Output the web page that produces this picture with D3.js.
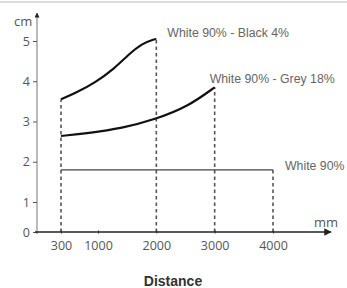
<!DOCTYPE html>
<html>
<head>
<meta charset="utf-8">
<script src="https://cdn.jsdelivr.net/npm/d3@7"></script>
<style>
  body { margin: 0; background: #fff; }
  svg { display: block; }
</style>
</head>
<body>
<svg id="chart" width="347" height="288"></svg>
<script>
// distance (mm) ticks and values
const xTicks = [300, 1000, 2000, 3000, 4000];
const yTicks = [0, 1, 2, 3, 4, 5];

const blackDist = [300, 565, 943, 1291, 1514, 1754, 1977, 2000];
const blackCm = [3.55, 3.7, 3.96, 4.33, 4.65, 4.94, 5.05, 5.05];

const greyDist = [300, 811, 1411, 1977, 2543, 3000];
const greyCm = [2.64, 2.71, 2.83, 3.05, 3.37, 3.85];

const whiteDist = [300, 4000];
const whiteCm = [1.8, 1.8];

const seriesNames = ["White 90% - Black 4%", "White 90% - Grey 18%", "White 90%"];

const svg = d3.select("#chart");

// schematic axes: not strictly linear in the original
const x = d3.scaleLinear().domain([0, 300, 1000, 4000]).range([37, 61, 98, 273]);
const y = d3.scaleLinear().domain([0, 1, 5]).range([232, 202, 41]);

// top rule
svg.append("rect").attr("x", 0).attr("y", 1).attr("width", 347).attr("height", 2).attr("fill", "#dcdcdc");

const defs = svg.append("defs");
defs.append("marker")
  .attr("id", "arrow")
  .attr("viewBox", "0 0 10 10")
  .attr("refX", 9).attr("refY", 5)
  .attr("markerWidth", 5).attr("markerHeight", 5)
  .attr("orient", "auto")
  .append("path").attr("d", "M0,0L10,5L0,10Z").attr("fill", "#222");

// dashed drop lines
const drops = [
  { d: 300, v: blackCm[0] },
  { d: 2000, v: blackCm[blackCm.length - 1] },
  { d: 3000, v: greyCm[greyCm.length - 1] },
  { d: 4000, v: whiteCm[1] },
];
svg.append("g").selectAll("line").data(drops).join("line")
  .attr("x1", (d) => x(d.d)).attr("x2", (d) => x(d.d))
  .attr("y1", y(0)).attr("y2", (d) => y(d.v))
  .attr("stroke", "#555").attr("stroke-width", 1.6)
  .attr("stroke-dasharray", "3.5,3");

// y axis
svg.append("line")
  .attr("x1", 37).attr("x2", 37).attr("y1", y(0) + 2).attr("y2", 13)
  .attr("stroke", "#777").attr("stroke-width", 1)
  .attr("marker-end", "url(#arrow)");
const yAxis = d3.axisLeft(y).tickValues(yTicks).tickFormat(d3.format("d")).tickSize(4).tickPadding(3);
const yG = svg.append("g").attr("transform", "translate(37,0)").call(yAxis);
yG.select(".domain").remove();
yG.selectAll(".tick line").attr("stroke", "#555");
yG.selectAll(".tick text")
  .attr("fill", "#555").style("font-family", "Open Sans").style("font-size", "12.5px");
svg.append("text").attr("x", 14).attr("y", 26)
  .attr("fill", "#555").style("font-family", "Open Sans").style("font-size", "13px").text("cm");

// x axis
svg.append("line")
  .attr("x1", 35).attr("x2", 331).attr("y1", y(0)).attr("y2", y(0))
  .attr("stroke", "#222").attr("stroke-width", 1.5)
  .attr("marker-end", "url(#arrow)");
const xAxis = d3.axisBottom(x).tickValues(xTicks).tickFormat(d3.format("d")).tickSize(3).tickPadding(8);
const xG = svg.append("g").attr("transform", `translate(0,${y(0) - 1.5})`).call(xAxis);
xG.select(".domain").remove();
xG.selectAll(".tick line").attr("stroke", "#333");
xG.selectAll(".tick text")
  .attr("fill", "#555").style("font-family", "Open Sans").style("font-size", "12.5px");
svg.append("text").attr("x", 314).attr("y", 227)
  .attr("fill", "#555").style("font-family", "Open Sans").style("font-size", "13px").text("mm");

svg.append("text").attr("x", 173).attr("y", 286).attr("text-anchor", "middle")
  .attr("fill", "#333").style("font-family", "Liberation Sans").style("font-weight", "bold")
  .style("font-size", "14px").text("Distance");

// curves
const line = d3.line().x((d) => x(d[0])).y((d) => y(d[1])).curve(d3.curveBasis);
const series = [
  { pts: d3.zip(blackDist, blackCm), w: 2.2 },
  { pts: d3.zip(greyDist, greyCm), w: 2.2 },
  { pts: d3.zip(whiteDist, whiteCm), w: 1.3 },
];
svg.append("g").selectAll("path").data(series).join("path")
  .attr("d", (d) => line(d.pts))
  .attr("fill", "none").attr("stroke", (d, i) => (i === 2 ? "#444" : "#111"))
  .attr("stroke-width", (d) => d.w);

// series labels
const labelPos = [
  { d: 2000, v: blackCm[blackCm.length - 1], dx: 11, dy: -1.5 },
  { d: 3000, v: greyCm[greyCm.length - 1], dx: -5, dy: -4 },
  { d: 4000, v: whiteCm[1], dx: 12, dy: 0 },
];
svg.append("g").selectAll("text").data(labelPos).join("text")
  .attr("x", (d) => x(d.d) + d.dx).attr("y", (d) => y(d.v) + d.dy)
  .attr("fill", "#666").style("font-family", "Liberation Sans").style("font-size", "12.3px")
  .text((d, i) => seriesNames[i]);
</script>
</body>
</html>
